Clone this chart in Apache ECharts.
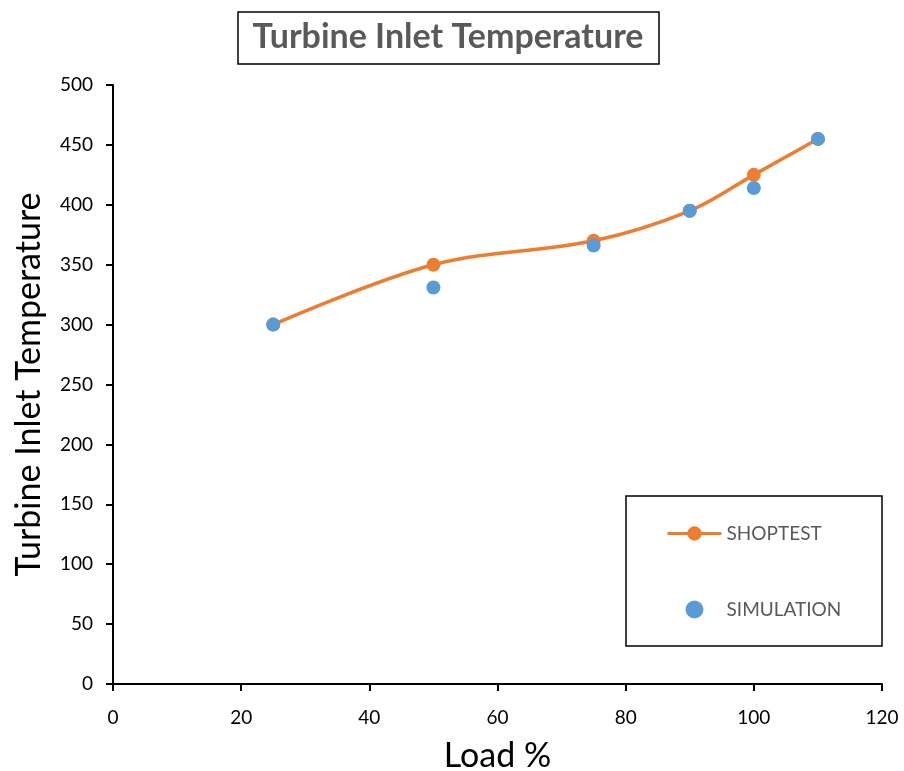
<!DOCTYPE html>
<html>
<head>
<meta charset="utf-8">
<script src="https://cdn.jsdelivr.net/npm/echarts@6/dist/echarts.min.js"></script>
<style>
  html, body { margin: 0; padding: 0; background: #fff; }
  #chart { width: 904px; height: 771px; }
</style>
</head>
<body>
<div id="chart"></div>
<script>
// load % on the x axis
const loads = [25, 50, 75, 90, 100, 110]
const shopTest = [300, 350, 370, 395, 425, 455]
const simulation = [300, 331, 366, 395, 414, 455]
const xTicks = [0, 20, 40, 60, 80, 100, 120]
const yTicks = [0, 50, 100, 150, 200, 250, 300, 350, 400, 450, 500]

const pairs = (xs, ys) => xs.map((x, i) => [x, ys[i]])

const font = "Lato, 'Open Sans', 'Liberation Sans', sans-serif"
const tickStyle = { color: '#000', width: 2 }

const chart = echarts.init(document.getElementById('chart'))
const option = {
  animation: false,
  textStyle: { fontFamily: font },
  title: {
    text: 'Turbine Inlet Temperature',
    left: 443,
    top: 15,
    textAlign: 'center',
    textStyle: { fontSize: 34, fontWeight: 'bold', color: '#595959', fontFamily: font }
  },
  graphic: [
    {
      type: 'rect',
      shape: { x: 238, y: 12, width: 421, height: 52 },
      style: { fill: 'none', stroke: '#000', lineWidth: 1.5 }
    },
    {
      type: 'rect',
      shape: { x: 626, y: 496, width: 256, height: 150 },
      style: { fill: '#fff', stroke: '#000', lineWidth: 1.5 },
      z: 0
    }
  ],
  legend: {
    orient: 'vertical',
    left: 666,
    top: 524,
    padding: 0,
    itemWidth: 54,
    itemHeight: 18,
    itemGap: 57,
    z: 5,
    lineStyle: { width: 3 },
    textStyle: { fontSize: 19, color: '#595959', fontFamily: font },
    data: ['SHOPTEST', 'SIMULATION']
  },
  grid: { left: 113, right: 22, top: 85, bottom: 87, outerBoundsMode: 'none' },
  xAxis: {
    type: 'value',
    min: xTicks[0],
    max: xTicks[xTicks.length - 1],
    interval: xTicks[1] - xTicks[0],
    name: 'Load %',
    nameLocation: 'middle',
    nameGap: 55,
    nameTextStyle: { fontSize: 34, color: '#000', fontFamily: font },
    axisLine: { lineStyle: { color: '#000', width: 2 } },
    splitLine: { show: false },
    axisTick: { show: true, length: 7, lineStyle: tickStyle },
    axisLabel: { fontSize: 19, color: '#000', margin: 24, fontFamily: font }
  },
  yAxis: {
    type: 'value',
    min: yTicks[0],
    max: yTicks[yTicks.length - 1],
    interval: yTicks[1] - yTicks[0],
    name: 'Turbine Inlet Temperature',
    nameLocation: 'middle',
    nameGap: 67,
    nameTextStyle: { fontSize: 34, color: '#000', fontFamily: font },
    axisLine: { lineStyle: { color: '#000', width: 2 } },
    splitLine: { show: false },
    axisTick: { show: true, length: 7, lineStyle: tickStyle },
    axisLabel: { fontSize: 19, color: '#000', margin: 20, fontFamily: font }
  },
  series: [
    {
      name: 'SHOPTEST',
      type: 'line',
      smooth: 0.35,
      symbol: 'circle',
      symbolSize: 14,
      z: 2,
      itemStyle: { color: '#ED7D31' },
      lineStyle: { color: '#ED7D31', width: 3.5 },
      data: pairs(loads, shopTest)
    },
    {
      name: 'SIMULATION',
      type: 'scatter',
      symbol: 'circle',
      symbolSize: 14,
      z: 4,
      itemStyle: { color: '#5B9BD5', opacity: 1 },
      data: pairs(loads, simulation)
    }
  ]
}
chart.setOption(option)
</script>
</body>
</html>
